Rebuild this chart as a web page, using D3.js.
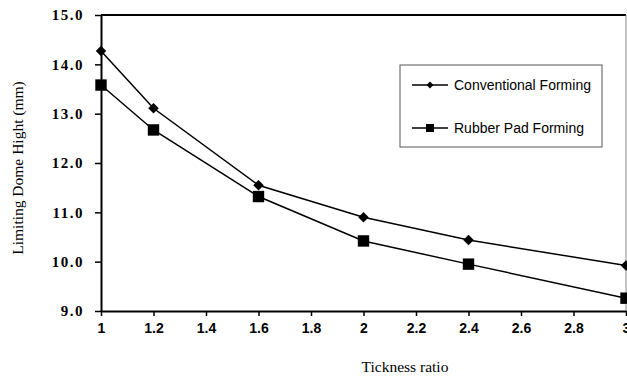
<!DOCTYPE html>
<html>
<head>
<meta charset="utf-8">
<script src="https://cdn.jsdelivr.net/npm/d3@7"></script>
<style>
  body { margin: 0; background: #fff; }
  svg { display: block; }
</style>
</head>
<body>
<svg id="chart" width="627" height="376"></svg>
<script>
var ratios = [1, 1.2, 1.6, 2, 2.4, 3];
var conventional = [14.27, 13.11, 11.55, 10.90, 10.44, 9.92];
var rubberPad = [13.58, 12.67, 11.32, 10.42, 9.95, 9.26];
var xTicks = [1, 1.2, 1.4, 1.6, 1.8, 2, 2.2, 2.4, 2.6, 2.8, 3];
var yTicks = [9, 10, 11, 12, 13, 14, 15];
var seriesNames = ['Conventional Forming', 'Rubber Pad Forming'];

var svg = d3.select('#chart');
var margin = { top: 15, right: 1, bottom: 65, left: 101 };
var width = 627 - margin.left - margin.right;
var height = 376 - margin.top - margin.bottom;

var x = d3.scaleLinear().domain([1, 3]).range([0, width]);
var y = d3.scaleLinear().domain([9, 15]).range([height, 0]);

var g = svg.append('g')
  .attr('transform', `translate(${margin.left},${margin.top})`);

// frame (top and right)
g.append('line').attr('x1', 0).attr('x2', width).attr('y1', 0).attr('y2', 0)
  .attr('stroke', '#000').attr('stroke-width', 2);
g.append('line').attr('x1', width).attr('x2', width).attr('y1', 0).attr('y2', height)
  .attr('stroke', '#888').attr('stroke-width', 1);

// y axis
var yAxis = g.append('g')
  .call(d3.axisLeft(y).tickValues(yTicks).tickSize(6).tickSizeOuter(0).tickFormat(d3.format('.1f')));
yAxis.select('.domain').attr('stroke-width', 2);
yAxis.selectAll('.tick line').attr('stroke-width', 1.5);
yAxis.selectAll('text')
  .attr('x', -17)
  .style('font-family', '"Liberation Serif", "Times New Roman", serif')
  .style('font-weight', 'bold')
  .style('font-size', '15px')
  .style('letter-spacing', '1.5px')
  .attr('fill', '#000');

// x axis
var xAxis = g.append('g')
  .attr('transform', `translate(0,${height})`)
  .call(d3.axisBottom(x).tickValues(xTicks).tickSize(5).tickSizeOuter(0).tickFormat(d => d3.format('')(+d.toFixed(1))));
xAxis.select('.domain').attr('stroke-width', 2);
xAxis.selectAll('.tick line').attr('stroke-width', 1.5);
xAxis.selectAll('text')
  .attr('y', 12)
  .style('font-family', '"Liberation Sans", Arial, sans-serif')
  .style('font-weight', 'bold')
  .style('font-size', '14px')
  .attr('fill', '#000');

// axis titles
svg.append('text')
  .attr('transform', `translate(23,168) rotate(-90)`)
  .attr('text-anchor', 'middle')
  .style('font-family', '"Liberation Serif", "Times New Roman", serif')
  .style('font-size', '15.5px')
  .text('Limiting Dome Hight (mm)');

svg.append('text')
  .attr('x', 405)
  .attr('y', 372)
  .attr('text-anchor', 'middle')
  .style('font-family', '"Liberation Serif", "Times New Roman", serif')
  .style('font-size', '15.5px')
  .text('Tickness ratio');

var line = d3.line()
  .x((d, i) => x(ratios[i]))
  .y(d => y(d));

var diamond = d3.symbol().type(d3.symbolDiamond2).size(70);
var square = d3.symbol().type(d3.symbolSquare).size(130);

function drawSeries(values, sym) {
  g.append('path')
    .datum(values)
    .attr('fill', 'none')
    .attr('stroke', '#000')
    .attr('stroke-width', 1.5)
    .attr('d', line);
  g.selectAll(null)
    .data(values)
    .enter()
    .append('path')
    .attr('d', sym)
    .attr('transform', (d, i) => `translate(${x(ratios[i])},${y(d)})`)
    .attr('fill', '#000');
}

drawSeries(conventional, diamond);
drawSeries(rubberPad, square);

// legend
var lg = svg.append('g').attr('transform', 'translate(400,65)');
lg.append('rect')
  .attr('width', 202).attr('height', 82)
  .attr('fill', '#fff').attr('stroke', '#555').attr('stroke-width', 1);

var legendSyms = [d3.symbol().type(d3.symbolDiamond2).size(30), d3.symbol().type(d3.symbolSquare).size(64)];
seriesNames.forEach(function(name, i) {
  var ly = 20 + i * 43;
  lg.append('line').attr('x1', 12).attr('x2', 48).attr('y1', ly).attr('y2', ly)
    .attr('stroke', '#000').attr('stroke-width', 1.5);
  lg.append('path').attr('d', legendSyms[i])
    .attr('transform', `translate(30,${ly})`).attr('fill', '#000');
  lg.append('text')
    .attr('x', 54).attr('y', ly + 5)
    .style('font-family', '"Liberation Sans", Arial, sans-serif')
    .style('font-size', '14px')
    .text(name);
});
</script>
</body>
</html>
